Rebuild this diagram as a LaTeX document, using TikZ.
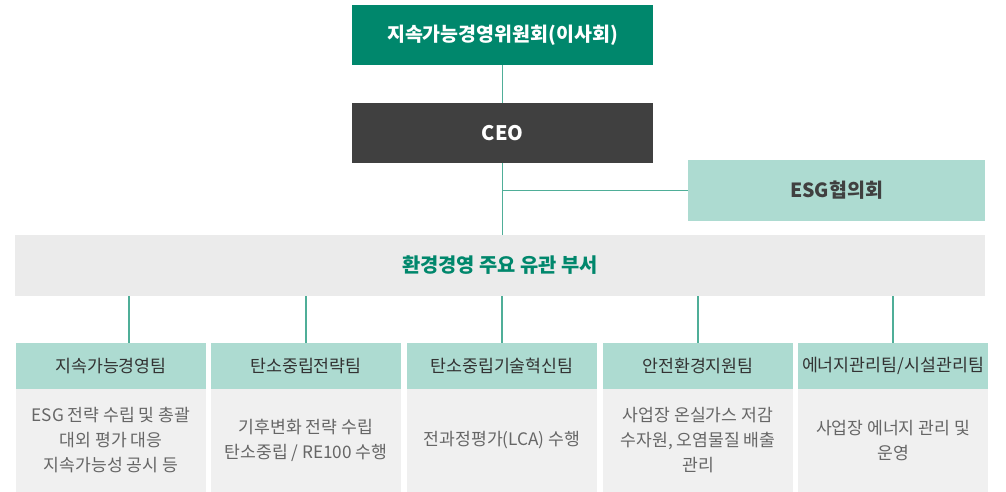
\documentclass[tikz,border=0pt]{standalone}
\usepackage{fontspec}
\setmainfont{Noto Sans CJK KR}
\definecolor{teal1}{HTML}{00876C}
\definecolor{darkbox}{HTML}{404040}
\definecolor{mint}{HTML}{ADDBD1}
\definecolor{barbg}{HTML}{EBEBEB}
\definecolor{bodybg}{HTML}{F0F0F0}
\definecolor{linec}{HTML}{4FAE98}
\definecolor{bodytext}{HTML}{666666}
\definecolor{headtext}{HTML}{333333}
\begin{document}
\begin{tikzpicture}[x=1pt,y=-1pt,
  every node/.style={inner sep=0pt,outer sep=0pt,align=center},
  topbox/.style={anchor=north west,minimum width=301pt,minimum height=60pt,font=\bfseries\fontsize{19.5}{23}\selectfont,text=white},
  teamhead/.style={anchor=north west,minimum width=190pt,minimum height=46pt,fill=mint,text=headtext,font=\fontsize{17.3}{20}\selectfont},
  teambody/.style={anchor=north west,minimum width=190pt,minimum height=103pt,fill=bodybg,text=bodytext,font=\fontsize{17.2}{25}\selectfont},
  conn/.style={draw=linec,line width=1.4pt}]
\useasboundingbox (0,0) rectangle (1006,492);
\node[topbox,fill=teal1] (board) at (352,5) {지속가능경영위원회(이사회)};
\node[topbox,fill=darkbox,font=\bfseries\fontsize{20}{23}\selectfont] (ceo) at (352,103) {CEO};
\node[anchor=north west,minimum width=297pt,minimum height=61pt,fill=mint,text=darkbox,font=\bfseries\fontsize{19.5}{23}\selectfont] (esg) at (688,160) {ESG협의회};
\node[anchor=north west,minimum width=970pt,minimum height=61pt,fill=barbg,text=teal1,font=\bfseries\fontsize{19.8}{23}\selectfont] (dept) at (15,235) {환경경영 주요 유관 부서};
% teams
\node[teamhead] (h1) at (16,343) {지속가능경영팀};
\node[teamhead] (h2) at (211,343) {탄소중립전략팀};
\node[teamhead] (h3) at (407,343) {탄소중립기술혁신팀};
\node[teamhead] (h4) at (603,343) {안전환경지원팀};
\node[teamhead] (h5) at (798,343) {에너지관리팀/시설관리팀};
\node[teambody] (b1) at (16,389) {ESG 전략 수립 및 총괄\\대외 평가 대응\\지속가능성 공시 등};
\node[teambody] (b2) at (211,389) {기후변화 전략 수립\\탄소중립 / RE100 수행};
\node[teambody] (b3) at (407,389) {전과정평가(LCA) 수행};
\node[teambody] (b4) at (603,389) {사업장 온실가스 저감\\수자원, 오염물질 배출\\관리};
\node[teambody] (b5) at (798,389) {사업장 에너지 관리 및\\운영};
% connectors
\draw[conn] (board.south) -- (ceo.north);
\draw[conn] (ceo.south) -- (ceo.south |- dept.north);
\coordinate (j) at (ceo.south |- esg.west);
\draw[conn] (j) -- (esg.west);
\coordinate (c1) at (129,343);
\draw[conn] (c1 |- dept.south) -- (c1);
\draw[conn] (dept.south -| h2.north) -- (h2.north);
\draw[conn] (dept.south -| h3.north) -- (h3.north);
\draw[conn] (dept.south -| h4.north) -- (h4.north);
\draw[conn] (dept.south -| h5.north) -- (h5.north);
\end{tikzpicture}
\end{document}
